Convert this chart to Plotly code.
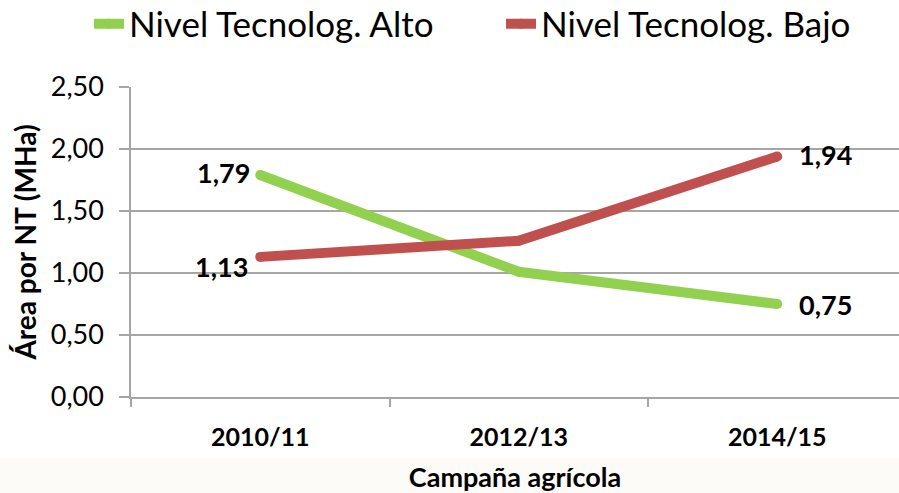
import plotly.graph_objects as go

categories = ["2010/11", "2012/13", "2014/15"]
alto = [1.79, 1.01, 0.75]
bajo = [1.13, 1.26, 1.94]
y_ticks = [0.0, 0.5, 1.0, 1.5, 2.0, 2.5]
series_names = ["Nivel Tecnolog. Alto", "Nivel Tecnolog. Bajo"]

FONT = "Lato"
GREEN = "#92D050"
RED = "#C0504D"
GRID = "#A6A6A6"

def fmt(v):
    return f"{v:.2f}".replace(".", ",")

xs = list(range(len(categories)))

fig = go.Figure()
for name, vals, col, lg in [(series_names[0], alto, GREEN, "legend"),
                            (series_names[1], bajo, RED, "legend2")]:
    fig.add_trace(go.Scatter(
        x=xs, y=vals, name=name, mode="lines+markers",
        line=dict(color=col, width=10),
        marker=dict(color=col, size=10, line=dict(width=0)),
        cliponaxis=False, legend=lg,
    ))

# data labels (first and last point of each series)
label_font = dict(family=FONT, size=27, color="black", weight="bold")
label_specs = [
    (alto, 0, "right", -8, 3),
    (alto, 2, "left", 20, 0),
    (bajo, 0, "right", -10, -10),
    (bajo, 2, "left", 20, 2),
]
for vals, i, anchor, xsh, ysh in label_specs:
    fig.add_annotation(
        x=xs[i], y=vals[i], xref="x", yref="y", text=fmt(vals[i]),
        showarrow=False, xanchor=anchor, yanchor="middle",
        xshift=xsh, yshift=ysh, font=label_font,
    )

W, H = 899, 493
L, T, B = 131, 87, 96
x_end = -0.5 + (W - L) / 258.5

# faint slide background strip at the bottom
fig.add_shape(type="rect", xref="paper", yref="paper",
              x0=-L / (W - L), x1=1.0, y0=-(B) / (H - T - B), y1=-(458 - (H - B)) / (H - T - B),
              fillcolor="#FDFBF8", line=dict(width=0), layer="below")

legend_common = dict(
    orientation="h", xref="container", y=1 - 24 / H, yref="container",
    xanchor="left", yanchor="middle",
    font=dict(family=FONT, size=35, color="black"),
    itemwidth=30, bgcolor="rgba(0,0,0,0)", borderwidth=0,
)

fig.update_layout(
    width=W, height=H,
    margin=dict(l=L, r=0, t=T, b=B, autoexpand=False),
    paper_bgcolor="white", plot_bgcolor="white",
    separators=",.",
    font=dict(family=FONT, color="black"),
    showlegend=True,
    legend=dict(x=89 / W, **legend_common),
    legend2=dict(x=501 / W, **legend_common),
    xaxis=dict(
        range=[-0.5, x_end], automargin=False,
        tickmode="array", tickvals=xs, ticktext=categories,
        ticks="", showgrid=False, zeroline=False,
        showline=True, linecolor=GRID, linewidth=1.5,
        tickfont=dict(family=FONT, size=25, color="black", weight="bold"),
        ticklabelstandoff=17,
        minor=dict(tickmode="array", tickvals=[-0.5, 0.5, 1.5], ticks="outside",
                   ticklen=8, tickcolor=GRID, tickwidth=1.5, showgrid=False),
        title=dict(text="Campaña agrícola", standoff=18,
                   font=dict(family=FONT, size=27, color="black", weight="bold")),
    ),
    yaxis=dict(
        range=[0, 2.5], automargin=False,
        tickmode="array", tickvals=y_ticks,
        tickformat=".2f",
        ticks="outside", ticklen=10, tickcolor=GRID, tickwidth=1.5,
        showgrid=True, gridcolor=GRID, gridwidth=1.5,
        zeroline=False,
        showline=True, linecolor=GRID, linewidth=1.5,
        tickfont=dict(family=FONT, size=27, color="black"),
        ticklabelstandoff=10,
        title=dict(text="Área por NT (MHa)", standoff=6,
                   font=dict(family=FONT, size=28, color="black", weight="bold")),
    ),
)

fig.write_html(
    "out.html",
    config={"displayModeBar": False},
    post_script="document.body.style.margin='0';document.body.style.overflow='hidden';",
)
